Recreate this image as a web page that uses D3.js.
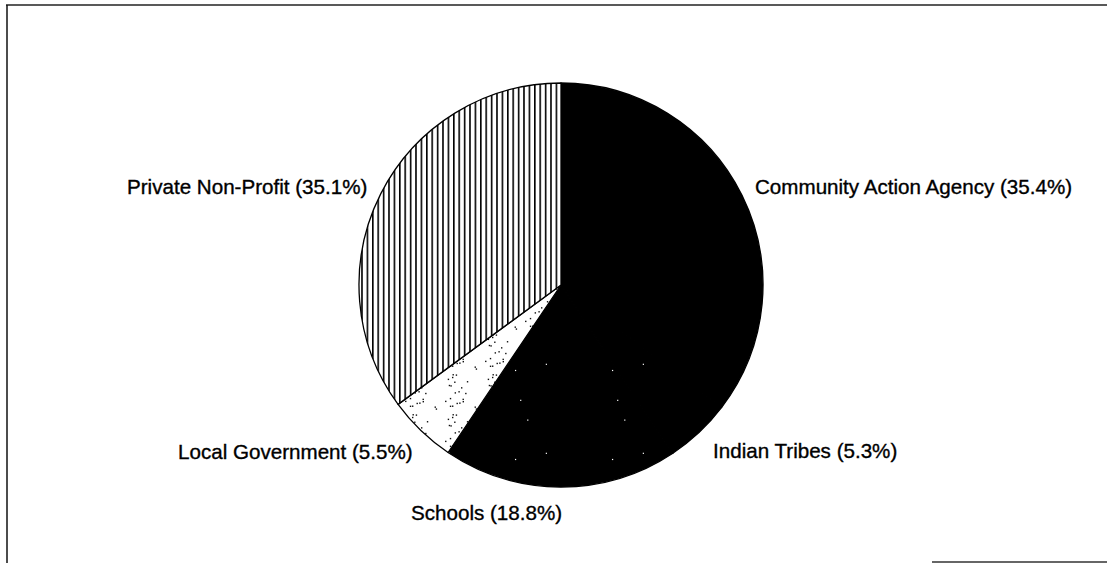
<!DOCTYPE html>
<html>
<head>
<meta charset="utf-8">
<script src="https://cdn.jsdelivr.net/npm/d3@7"></script>
<style>
  html, body { margin: 0; padding: 0; background: #fff; }
  svg { display: block; }
  text { font-family: "Liberation Sans", Arial, sans-serif; font-size: 20.6px; fill: #000; stroke: #000; stroke-width: 0.35px; }
</style>
</head>
<body>
<svg id="chart" width="1107" height="563"></svg>
<script>
// ---- data ----
const categories = ["Community Action Agency", "Indian Tribes", "Schools", "Local Government", "Private Non-Profit"];
const shares = [35.4, 5.3, 18.8, 5.5, 35.1];
const labelText = ["Community Action Agency (35.4%)", "Indian Tribes (5.3%)", "Schools (18.8%)", "Local Government (5.5%)", "Private Non-Profit (35.1%)"];

// ---- layout ----
const W = 1107, H = 563;
const cx = 561, cy = 285, R = 202;
// label anchor offsets relative to pie centre (x of text start, baseline y)
const labelOffsets = [
  {dx: 194, dy: -91},
  {dx: 152, dy: 173},
  {dx: -150, dy: 235},
  {dx: -383, dy: 174},
  {dx: -434, dy: -91}
];
const fills = ["#000", "url(#darkSpeckle)", "url(#darkSpeckle)", "url(#lightSpeckle)", "url(#stripes)"];

const svg = d3.select("#chart");
const defs = svg.append("defs");

// vertical stripes
const st = defs.append("pattern").attr("id", "stripes").attr("patternUnits", "userSpaceOnUse")
  .attr("width", 5.4).attr("height", 10);
st.append("rect").attr("width", 5.4).attr("height", 10).attr("fill", "#fff");
st.append("rect").attr("x", 0).attr("width", 1.6).attr("height", 10).attr("fill", "#000");

// deterministic speckle textures
function lcg(seed) { let s = seed; return () => (s = (s * 1103515245 + 12345) % 2147483648) / 2147483648; }
const ds = defs.append("pattern").attr("id", "darkSpeckle").attr("patternUnits", "userSpaceOnUse")
  .attr("width", 97).attr("height", 89);
ds.append("rect").attr("width", 97).attr("height", 89).attr("fill", "#000");
let rnd = lcg(7);
for (let i = 0; i < 4; i++) {
  ds.append("rect").attr("x", rnd() * 94).attr("y", rnd() * 86).attr("width", 1.2).attr("height", 1.2).attr("fill", "#fff");
}
const ls = defs.append("pattern").attr("id", "lightSpeckle").attr("patternUnits", "userSpaceOnUse")
  .attr("width", 40).attr("height", 40);
ls.append("rect").attr("width", 40).attr("height", 40).attr("fill", "#fff");
rnd = lcg(13);
for (let i = 0; i < 22; i++) {
  ls.append("rect").attr("x", rnd() * 38).attr("y", rnd() * 38).attr("width", 1.4).attr("height", 1.4).attr("fill", "#111");
}

// frame
svg.append("line").attr("x1", 6).attr("y1", 5).attr("x2", W).attr("y2", 5).attr("stroke", "#222").attr("stroke-width", 1.5);
svg.append("line").attr("x1", 7).attr("y1", 5).attr("x2", 7).attr("y2", H).attr("stroke", "#111").attr("stroke-width", 1.5);
svg.append("line").attr("x1", 932).attr("y1", 562).attr("x2", W).attr("y2", 562).attr("stroke", "#333").attr("stroke-width", 1.5);

// pie
const data = categories.map((c, i) => ({cat: c, value: shares[i], label: labelText[i], i}));
const pie = d3.pie().value(d => d.value).sort(null).startAngle(0).endAngle(2 * Math.PI);
const arc = d3.arc().innerRadius(0).outerRadius(R);
const g = svg.append("g").attr("transform", `translate(${cx},${cy})`);
const arcs = pie(data);
g.selectAll("path").data(arcs).join("path")
  .attr("d", arc)
  .attr("fill", d => fills[d.data.i])
  .attr("stroke", "#000").attr("stroke-width", 1.3).attr("stroke-linejoin", "round");

// labels
g.selectAll("text").data(arcs).join("text")
  .attr("x", d => labelOffsets[d.data.i].dx)
  .attr("y", d => labelOffsets[d.data.i].dy)
  .text(d => d.data.label);
</script>
</body>
</html>
